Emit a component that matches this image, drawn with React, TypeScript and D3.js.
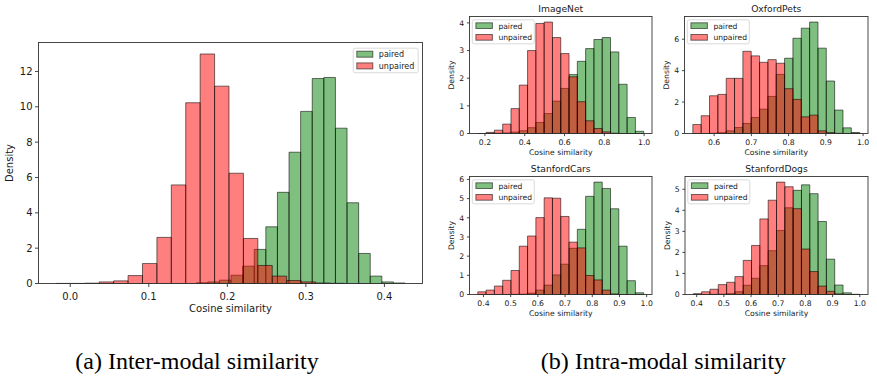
import React from "react";
import * as d3 from "d3";

// ---------- data ----------
const seriesNames = ["paired", "unpaired"];

// (a) inter-modal similarity
const interPairedStart = 0.1604;
const interPairedWidth = 0.01477;
const interPaired = [0.04, 0.09, 0.19, 0.47, 0.98, 1.93, 3.21, 5.16, 7.43, 9.74, 11.6, 11.66, 8.79, 4.57, 1.7, 0.42, 0.09, 0.03];
const interUnpairedStart = -0.0182;
const interUnpairedWidth = 0.01836;
const interUnpaired = [0.005, 0.005, 0.02, 0.09, 0.15, 0.45, 1.13, 2.61, 5.58, 10.23, 12.99, 11.17, 6.24, 2.55, 1.02, 0.42, 0.17, 0.09, 0.03, 0.01];
const interXTicks = [0, 0.1, 0.2, 0.3, 0.4];
const interYTicks = [0, 2, 4, 6, 8, 10, 12];

// (b) intra-modal similarity (shared bins per dataset)
const datasets = ["ImageNet", "OxfordPets", "StanfordCars", "StanfordDogs"];
const binStarts = [0.164, 0.5428, 0.3791, 0.3876];
const binWidths = [0.0417, 0.0224, 0.0305, 0.0306];

const imagenetPaired = [0, 0.005, 0.01, 0.02, 0.05, 0.1, 0.21, 0.4, 0.72, 1.17, 1.63, 2.13, 2.61, 3.07, 3.4, 3.47, 2.95, 1.78, 0.58, 0.08];
const imagenetUnpaired = [0, 0.04, 0.12, 0.34, 0.9, 1.75, 3.0, 3.98, 4.03, 3.47, 2.89, 2.05, 1.15, 0.46, 0.18, 0.06, 0.01, 0, 0, 0];
const oxfordPaired = [0, 0, 0.02, 0.05, 0.17, 0.38, 0.64, 1.02, 1.55, 2.36, 3.76, 4.79, 6.06, 6.7, 7.09, 5.43, 3.34, 1.49, 0.36, 0.06];
const oxfordUnpaired = [0.57, 1.13, 2.4, 2.49, 3.51, 3.51, 5.23, 4.94, 4.53, 4.7, 4.47, 2.85, 2.17, 1.06, 1.17, 0.17, 0.06, 0.01, 0, 0.02];
const carsPaired = [0, 0, 0, 0, 0.01, 0.02, 0.07, 0.23, 0.49, 1.02, 1.58, 2.41, 3.4, 5.12, 5.86, 5.53, 4.47, 2.52, 0.72, 0.09];
const carsUnpaired = [0.14, 0.23, 0.44, 0.74, 1.25, 2.52, 3.05, 4.01, 5.04, 5.02, 4.07, 2.73, 2.43, 0.99, 0.76, 0.23, 0.03, 0, 0, 0];
const dogsPaired = [0, 0, 0.01, 0.02, 0.04, 0.13, 0.44, 0.77, 1.37, 2.08, 3.04, 4.12, 4.95, 5.21, 4.79, 3.47, 1.68, 0.45, 0.08, 0.01];
const dogsUnpaired = [0.04, 0.13, 0.25, 0.47, 0.58, 0.85, 1.62, 2.33, 3.59, 4.48, 5.34, 5.12, 4.08, 2.16, 1.09, 0.4, 0.15, 0.03, 0, 0];

const pairedValues = [imagenetPaired, oxfordPaired, carsPaired, dogsPaired];
const unpairedValues = [imagenetUnpaired, oxfordUnpaired, carsUnpaired, dogsUnpaired];

const smallXTicks = [
  [0.2, 0.4, 0.6, 0.8, 1.0],
  [0.6, 0.7, 0.8, 0.9, 1.0],
  [0.4, 0.5, 0.6, 0.7, 0.8, 0.9, 1.0],
  [0.4, 0.5, 0.6, 0.7, 0.8, 0.9, 1.0],
];
const smallYTicks = [
  [0, 1, 2, 3, 4],
  [0, 2, 4, 6],
  [0, 1, 2, 3, 4, 5, 6],
  [0, 1, 2, 3, 4, 5],
];

const captions = ["(a) Inter-modal similarity", "(b) Intra-modal similarity"];

// ---------- styling ----------
const GREEN = "#008000";
const RED = "#ff0000";
const FONT = "'DejaVu Sans', sans-serif";
const TEXT = "#1a1a1a";
const SERIF = "'Liberation Serif', 'Times New Roman', serif";

type Series = { start: number; width: number; values: number[]; color: string; name: string };

type Layout = {
  x0: number; x1: number; y0: number; y1: number;
  tick: number; label: number; legendFont: number; titleFont: number;
  tickLen: number; xTickBase: number; yTickGap: number; xLabelBase: number; yLabelX: number;
  legendRight: boolean; legendW: number; legendH: number; patchW: number; patchH: number; rowGap: number;
  titleGap: number;
};

const bigLayout: Layout = {
  x0: 38.5, x1: 422.5, y0: 42.5, y1: 283.5,
  tick: 10, label: 10, legendFont: 8, titleFont: 10,
  tickLen: 3.5, xTickBase: 16.7, yTickGap: 6, xLabelBase: 28, yLabelX: 12.5,
  legendRight: true, legendW: 65, legendH: 24.5, patchW: 16, patchH: 6, rowGap: 11.7,
  titleGap: 5,
};

const smallBase = {
  tick: 7.7, label: 7.7, legendFont: 7.6, titleFont: 9.2,
  tickLen: 2.6, xTickBase: 11.2, yTickGap: 5.3, xLabelBase: 21.2,
  legendRight: false, legendW: 62, legendH: 24, patchW: 16.5, patchH: 5.7, rowGap: 11.7,
  titleGap: 4.8,
};

const smallLayouts: Layout[] = [
  { ...smallBase, x0: 469.5, x1: 652, y0: 16.5, y1: 133.5, yLabelX: 454 },
  { ...smallBase, x0: 684.5, x1: 868, y0: 16.5, y1: 133.5, yLabelX: 669 },
  { ...smallBase, x0: 469.5, x1: 652, y0: 176.5, y1: 294.5, yLabelX: 454 },
  { ...smallBase, x0: 685, x1: 868, y0: 176.5, y1: 294.5, yLabelX: 669.5 },
];

function Panel({ L, series, xTicks, yTicks, title, xFmt }: {
  L: Layout; series: Series[]; xTicks: number[]; yTicks: number[]; title?: string; xFmt: (v: number) => string;
}) {
  const lo = d3.min(series, (s) => s.start) as number;
  const hi = d3.max(series, (s) => s.start + s.width * s.values.length) as number;
  const pad = (hi - lo) * 0.05;
  const xs = d3.scaleLinear().domain([lo - pad, hi + pad]).range([L.x0, L.x1]);
  const ymax = (d3.max(series, (s) => d3.max(s.values) as number) as number) * 1.05;
  const ys = d3.scaleLinear().domain([0, ymax]).range([L.y1, L.y0]);

  const bars = (s: Series) =>
    s.values.map((v, i) => {
      const a = xs(s.start + i * s.width);
      const b = xs(s.start + (i + 1) * s.width);
      const t = ys(v);
      const base = ys(0);
      return (
        <path
          key={s.name + i}
          d={`M${a},${base}V${t}H${b}V${base}Z`}
          fill={s.color}
          fillOpacity={0.5}
          stroke="#000"
          strokeOpacity={0.55}
          strokeWidth={1}
        />
      );
    });

  const lgX = L.legendRight ? L.x1 - 4.3 - L.legendW : L.x0 + 2.8;
  const lgY = L.legendRight ? L.y0 + 5.7 : L.y0 + 3.3;

  return (
    <g>
      {series.map((s) => (
        <g key={s.name}>{bars(s)}</g>
      ))}
      <rect x={L.x0} y={L.y0} width={L.x1 - L.x0} height={L.y1 - L.y0} fill="none" stroke="#333" strokeWidth={0.9} />
      {xTicks.map((t) => (
        <g key={"x" + t}>
          <line x1={xs(t)} x2={xs(t)} y1={L.y1} y2={L.y1 + L.tickLen} stroke="#333" strokeWidth={0.9} />
          <text x={xs(t)} y={L.y1 + L.xTickBase} textAnchor="middle" fontSize={L.tick} fontFamily={FONT} fill={TEXT}>
            {xFmt(t)}
          </text>
        </g>
      ))}
      {yTicks.map((t) => (
        <g key={"y" + t}>
          <line x1={L.x0 - L.tickLen} x2={L.x0} y1={ys(t)} y2={ys(t)} stroke="#333" strokeWidth={0.9} />
          <text x={L.x0 - L.yTickGap} y={ys(t) + L.tick * 0.36} textAnchor="end" fontSize={L.tick} fontFamily={FONT} fill={TEXT}>
            {String(t)}
          </text>
        </g>
      ))}
      <text x={(L.x0 + L.x1) / 2} y={L.y1 + L.xLabelBase} textAnchor="middle" fontSize={L.label} fontFamily={FONT} fill={TEXT}>
        Cosine similarity
      </text>
      <text
        transform={`translate(${L.yLabelX},${(L.y0 + L.y1) / 2}) rotate(-90)`}
        textAnchor="middle"
        fontSize={L.label}
        fontFamily={FONT}
        fill={TEXT}
      >
        Density
      </text>
      {title && (
        <text x={(L.x0 + L.x1) / 2} y={L.y0 - L.titleGap} textAnchor="middle" fontSize={L.titleFont} fontFamily={FONT} fill={TEXT}>
          {title}
        </text>
      )}
      <g>
        <rect x={lgX} y={lgY} width={L.legendW} height={L.legendH} rx={2} fill="#fff" fillOpacity={0.8} stroke="#d0d0d0" strokeWidth={0.8} />
        {series.map((s, i) => {
          const py = lgY + 3 + i * L.rowGap;
          return (
            <g key={"lg" + s.name}>
              <rect x={lgX + 3.6} y={py} width={L.patchW} height={L.patchH} fill={s.color} fillOpacity={0.5} stroke="#000" strokeOpacity={0.55} strokeWidth={1} />
              <text x={lgX + 3.6 + L.patchW + 6} y={py + L.patchH} fontSize={L.legendFont} fontFamily={FONT} fill={TEXT}>
                {s.name}
              </text>
            </g>
          );
        })}
      </g>
    </g>
  );
}

export default function App() {
  const fmt1 = d3.format(".1f");
  const interSeries: Series[] = [
    { start: interPairedStart, width: interPairedWidth, values: interPaired, color: GREEN, name: seriesNames[0] },
    { start: interUnpairedStart, width: interUnpairedWidth, values: interUnpaired, color: RED, name: seriesNames[1] },
  ];
  return (
    <svg width={877} height={382} style={{ position: "absolute", left: 0, top: 0, background: "#fff" }}>
      <rect x={0} y={0} width={877} height={382} fill="#fff" />
      <Panel L={bigLayout} series={interSeries} xTicks={interXTicks} yTicks={interYTicks} xFmt={fmt1} />
      {datasets.map((name, k) => (
        <Panel
          key={name}
          L={smallLayouts[k]}
          title={name}
          xFmt={fmt1}
          xTicks={smallXTicks[k]}
          yTicks={smallYTicks[k]}
          series={[
            { start: binStarts[k], width: binWidths[k], values: pairedValues[k], color: GREEN, name: seriesNames[0] },
            { start: binStarts[k], width: binWidths[k], values: unpairedValues[k], color: RED, name: seriesNames[1] },
          ]}
        />
      ))}
      <text x={197} y={369} textAnchor="middle" fontSize={24} fontFamily={SERIF} fill="#000">
        {captions[0]}
      </text>
      <text x={663.5} y={369} textAnchor="middle" fontSize={24} fontFamily={SERIF} fill="#000">
        {captions[1]}
      </text>
    </svg>
  );
}
